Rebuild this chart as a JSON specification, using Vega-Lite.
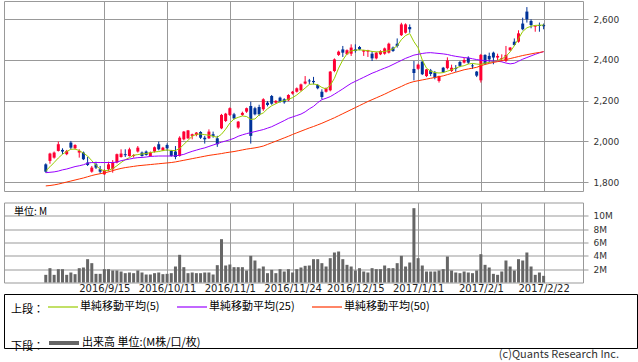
{
  "$schema": "https://vega.github.io/schema/vega-lite/v6.json",
  "padding": {"left": 3, "top": 0, "right": 0, "bottom": 0},
  "background": "white",
  "bounds": "flush",
  "spacing": 11.5,
  "resolve": {"scale": {"color": "independent", "x": "independent", "y": "independent"}, "legend": {"color": "independent"}},
  "config": {
    "view": {"stroke": "#999999", "strokeWidth": 1},
    "axis": {"gridColor": "#999999", "gridOpacity": 1, "gridWidth": 1, "labelFont": "DejaVu Sans", "labelColor": "#333333", "tickColor": "#999999", "domain": false},
    "legend": {"labelFont": "Noto Sans CJK JP", "labelFontSize": 11, "labelColor": "#000000", "titleFont": "Noto Sans CJK JP", "titleFontSize": 11, "titleFontWeight": "normal", "titleColor": "#000000", "titleBaseline": "line-top", "titleLineHeight": 16.5}
  },
  "datasets": {
    "k": [
      {"i":0,"o":1887,"h":1892,"l":1846,"c":1851,"v":1.15,"ma5":1855,"ma25":1846,"ma50":1781},
      {"i":1,"o":1904,"h":1944,"l":1890,"c":1940,"v":2.15,"ma5":1875,"ma25":1848,"ma50":1783},
      {"i":2,"o":1920,"h":1950,"l":1915,"c":1945,"v":1.15,"ma5":1896,"ma25":1850,"ma50":1786},
      {"i":3,"o":1953,"h":1999,"l":1950,"c":1986,"v":2.0,"ma5":1918,"ma25":1854,"ma50":1790},
      {"i":4,"o":1958,"h":1966,"l":1937,"c":1950,"v":2.0,"ma5":1937,"ma25":1860,"ma50":1795},
      {"i":5,"o":1937,"h":1958,"l":1932,"c":1953,"v":1.15,"ma5":1950,"ma25":1864,"ma50":1800},
      {"i":6,"o":1994,"h":2002,"l":1961,"c":1969,"v":1.5,"ma5":1961,"ma25":1870,"ma50":1805},
      {"i":7,"o":1966,"h":1986,"l":1960,"c":1982,"v":1.25,"ma5":1962,"ma25":1876,"ma50":1810},
      {"i":8,"o":1945,"h":1961,"l":1920,"c":1953,"v":2.15,"ma5":1955,"ma25":1880,"ma50":1815},
      {"i":9,"o":1945,"h":1950,"l":1908,"c":1912,"v":2.25,"ma5":1942,"ma25":1885,"ma50":1820},
      {"i":10,"o":1896,"h":1923,"l":1879,"c":1884,"v":3.5,"ma5":1928,"ma25":1893,"ma50":1826},
      {"i":11,"o":1851,"h":1879,"l":1846,"c":1871,"v":2.9,"ma5":1905,"ma25":1896,"ma50":1832},
      {"i":12,"o":1887,"h":1900,"l":1864,"c":1871,"v":1.3,"ma5":1882,"ma25":1896,"ma50":1837},
      {"i":13,"o":1863,"h":1879,"l":1841,"c":1851,"v":1.3,"ma5":1863,"ma25":1896,"ma50":1841},
      {"i":14,"o":1838,"h":1863,"l":1835,"c":1858,"v":2.0,"ma5":1855,"ma25":1896,"ma50":1845},
      {"i":15,"o":1863,"h":1900,"l":1853,"c":1887,"v":2.0,"ma5":1858,"ma25":1896,"ma50":1850},
      {"i":16,"o":1863,"h":1908,"l":1846,"c":1896,"v":1.8,"ma5":1866,"ma25":1896,"ma50":1856},
      {"i":17,"o":1896,"h":1940,"l":1892,"c":1937,"v":1.8,"ma5":1880,"ma25":1898,"ma50":1862},
      {"i":18,"o":1923,"h":1961,"l":1920,"c":1940,"v":1.65,"ma5":1896,"ma25":1905,"ma50":1867},
      {"i":19,"o":1937,"h":1961,"l":1923,"c":1932,"v":1.4,"ma5":1910,"ma25":1909,"ma50":1871},
      {"i":20,"o":1928,"h":1969,"l":1925,"c":1961,"v":1.5,"ma5":1920,"ma25":1913,"ma50":1874},
      {"i":21,"o":1928,"h":1937,"l":1920,"c":1933,"v":1.4,"ma5":1932,"ma25":1917,"ma50":1877},
      {"i":22,"o":1950,"h":1977,"l":1945,"c":1969,"v":1.8,"ma5":1935,"ma25":1920,"ma50":1880},
      {"i":23,"o":1945,"h":1950,"l":1925,"c":1928,"v":1.5,"ma5":1938,"ma25":1921,"ma50":1882},
      {"i":24,"o":1950,"h":1955,"l":1930,"c":1933,"v":1.2,"ma5":1940,"ma25":1923,"ma50":1884},
      {"i":25,"o":1928,"h":1950,"l":1925,"c":1945,"v":1.2,"ma5":1945,"ma25":1926,"ma50":1886},
      {"i":26,"o":1950,"h":1975,"l":1945,"c":1971,"v":1.4,"ma5":1948,"ma25":1927,"ma50":1888},
      {"i":27,"o":1986,"h":1999,"l":1956,"c":1961,"v":1.5,"ma5":1950,"ma25":1928,"ma50":1890},
      {"i":28,"o":1956,"h":1973,"l":1952,"c":1969,"v":1.25,"ma5":1955,"ma25":1928,"ma50":1892},
      {"i":29,"o":1982,"h":1990,"l":1953,"c":1966,"v":1.3,"ma5":1958,"ma25":1928,"ma50":1894},
      {"i":30,"o":1953,"h":1958,"l":1925,"c":1928,"v":1.4,"ma5":1955,"ma25":1928,"ma50":1896},
      {"i":31,"o":1950,"h":1977,"l":1912,"c":1923,"v":2.4,"ma5":1955,"ma25":1929,"ma50":1899},
      {"i":32,"o":1928,"h":2025,"l":1925,"c":2018,"v":4.15,"ma5":1965,"ma25":1932,"ma50":1903},
      {"i":33,"o":2010,"h":2051,"l":2005,"c":2048,"v":2.3,"ma5":1985,"ma25":1936,"ma50":1907},
      {"i":34,"o":2015,"h":2056,"l":2012,"c":2054,"v":1.4,"ma5":2005,"ma25":1944,"ma50":1911},
      {"i":35,"o":2027,"h":2038,"l":2010,"c":2035,"v":1.5,"ma5":2025,"ma25":1951,"ma50":1915},
      {"i":36,"o":2031,"h":2046,"l":2025,"c":2043,"v":1.4,"ma5":2035,"ma25":1957,"ma50":1919},
      {"i":37,"o":2046,"h":2050,"l":2012,"c":2018,"v":1.4,"ma5":2036,"ma25":1963,"ma50":1923},
      {"i":38,"o":2018,"h":2027,"l":1989,"c":2010,"v":1.5,"ma5":2033,"ma25":1968,"ma50":1927},
      {"i":39,"o":2015,"h":2059,"l":2012,"c":2048,"v":1.5,"ma5":2030,"ma25":1975,"ma50":1931},
      {"i":40,"o":2035,"h":2048,"l":2018,"c":2027,"v":1.2,"ma5":2025,"ma25":1982,"ma50":1934},
      {"i":41,"o":2015,"h":2027,"l":1973,"c":1986,"v":2.6,"ma5":2020,"ma25":1989,"ma50":1937},
      {"i":42,"o":2064,"h":2135,"l":2060,"c":2130,"v":6.5,"ma5":2035,"ma25":1996,"ma50":1940},
      {"i":43,"o":2100,"h":2140,"l":2095,"c":2136,"v":2.55,"ma5":2060,"ma25":2002,"ma50":1944},
      {"i":44,"o":2130,"h":2167,"l":2125,"c":2163,"v":2.7,"ma5":2090,"ma25":2008,"ma50":1947},
      {"i":45,"o":2133,"h":2140,"l":2108,"c":2113,"v":2.3,"ma5":2110,"ma25":2015,"ma50":1950},
      {"i":46,"o":2068,"h":2100,"l":2062,"c":2097,"v":2.3,"ma5":2118,"ma25":2025,"ma50":1954},
      {"i":47,"o":2130,"h":2146,"l":2125,"c":2140,"v":2.3,"ma5":2125,"ma25":2032,"ma50":1958},
      {"i":48,"o":2146,"h":2166,"l":2140,"c":2163,"v":1.8,"ma5":2122,"ma25":2038,"ma50":1962},
      {"i":49,"o":2174,"h":2195,"l":1989,"c":2027,"v":4.0,"ma5":2108,"ma25":2043,"ma50":1965},
      {"i":50,"o":2163,"h":2170,"l":2128,"c":2133,"v":3.3,"ma5":2110,"ma25":2048,"ma50":1968},
      {"i":51,"o":2169,"h":2180,"l":2125,"c":2133,"v":2.1,"ma5":2130,"ma25":2053,"ma50":1972},
      {"i":52,"o":2158,"h":2212,"l":2150,"c":2207,"v":2.4,"ma5":2140,"ma25":2058,"ma50":1977},
      {"i":53,"o":2190,"h":2198,"l":2172,"c":2179,"v":1.4,"ma5":2160,"ma25":2065,"ma50":1985},
      {"i":54,"o":2223,"h":2228,"l":2180,"c":2185,"v":1.9,"ma5":2175,"ma25":2072,"ma50":1993},
      {"i":55,"o":2190,"h":2203,"l":2185,"c":2199,"v":1.4,"ma5":2185,"ma25":2082,"ma50":2001},
      {"i":56,"o":2215,"h":2220,"l":2190,"c":2195,"v":2.0,"ma5":2195,"ma25":2092,"ma50":2009},
      {"i":57,"o":2207,"h":2212,"l":2185,"c":2192,"v":1.65,"ma5":2200,"ma25":2102,"ma50":2017},
      {"i":58,"o":2202,"h":2232,"l":2198,"c":2228,"v":2.0,"ma5":2207,"ma25":2113,"ma50":2025},
      {"i":59,"o":2235,"h":2248,"l":2230,"c":2244,"v":1.5,"ma5":2215,"ma25":2120,"ma50":2034},
      {"i":60,"o":2244,"h":2265,"l":2240,"c":2261,"v":2.0,"ma5":2228,"ma25":2127,"ma50":2042},
      {"i":61,"o":2251,"h":2284,"l":2246,"c":2280,"v":2.25,"ma5":2245,"ma25":2134,"ma50":2050},
      {"i":62,"o":2284,"h":2321,"l":2280,"c":2294,"v":2.5,"ma5":2262,"ma25":2145,"ma50":2058},
      {"i":63,"o":2299,"h":2307,"l":2281,"c":2295,"v":2.55,"ma5":2280,"ma25":2160,"ma50":2066},
      {"i":64,"o":2297,"h":2317,"l":2280,"c":2291,"v":3.5,"ma5":2282,"ma25":2172,"ma50":2073},
      {"i":65,"o":2277,"h":2282,"l":2256,"c":2261,"v":3.5,"ma5":2278,"ma25":2190,"ma50":2081},
      {"i":66,"o":2244,"h":2256,"l":2207,"c":2218,"v":2.9,"ma5":2265,"ma25":2205,"ma50":2089},
      {"i":67,"o":2244,"h":2265,"l":2240,"c":2261,"v":2.4,"ma5":2258,"ma25":2212,"ma50":2098},
      {"i":68,"o":2251,"h":2346,"l":2246,"c":2343,"v":3.65,"ma5":2275,"ma25":2220,"ma50":2107},
      {"i":69,"o":2346,"h":2408,"l":2340,"c":2403,"v":4.5,"ma5":2310,"ma25":2232,"ma50":2116},
      {"i":70,"o":2425,"h":2446,"l":2420,"c":2441,"v":4.65,"ma5":2360,"ma25":2245,"ma50":2126},
      {"i":71,"o":2452,"h":2469,"l":2415,"c":2436,"v":3.5,"ma5":2400,"ma25":2258,"ma50":2136},
      {"i":72,"o":2428,"h":2452,"l":2425,"c":2448,"v":2.65,"ma5":2430,"ma25":2272,"ma50":2146},
      {"i":73,"o":2431,"h":2477,"l":2420,"c":2461,"v":2.4,"ma5":2445,"ma25":2285,"ma50":2156},
      {"i":74,"o":2452,"h":2477,"l":2436,"c":2444,"v":1.8,"ma5":2448,"ma25":2295,"ma50":2166},
      {"i":75,"o":2464,"h":2469,"l":2448,"c":2452,"v":2.15,"ma5":2450,"ma25":2305,"ma50":2176},
      {"i":76,"o":2441,"h":2450,"l":2420,"c":2448,"v":1.65,"ma5":2448,"ma25":2315,"ma50":2186},
      {"i":77,"o":2441,"h":2450,"l":2415,"c":2448,"v":1.5,"ma5":2446,"ma25":2325,"ma50":2196},
      {"i":78,"o":2431,"h":2444,"l":2395,"c":2408,"v":2.15,"ma5":2442,"ma25":2335,"ma50":2205},
      {"i":79,"o":2408,"h":2440,"l":2403,"c":2436,"v":2.0,"ma5":2440,"ma25":2343,"ma50":2214},
      {"i":80,"o":2428,"h":2448,"l":2424,"c":2444,"v":2.0,"ma5":2440,"ma25":2352,"ma50":2223},
      {"i":81,"o":2431,"h":2461,"l":2426,"c":2457,"v":2.55,"ma5":2442,"ma25":2360,"ma50":2232},
      {"i":82,"o":2436,"h":2485,"l":2432,"c":2480,"v":2.15,"ma5":2446,"ma25":2368,"ma50":2242},
      {"i":83,"o":2461,"h":2466,"l":2440,"c":2444,"v":2.15,"ma5":2455,"ma25":2378,"ma50":2252},
      {"i":84,"o":2480,"h":2506,"l":2461,"c":2469,"v":2.9,"ma5":2470,"ma25":2388,"ma50":2261},
      {"i":85,"o":2522,"h":2583,"l":2518,"c":2575,"v":4.0,"ma5":2500,"ma25":2398,"ma50":2270},
      {"i":86,"o":2534,"h":2580,"l":2530,"c":2575,"v":2.4,"ma5":2520,"ma25":2408,"ma50":2280},
      {"i":87,"o":2562,"h":2575,"l":2534,"c":2551,"v":3.0,"ma5":2530,"ma25":2416,"ma50":2288},
      {"i":88,"o":2356,"h":2395,"l":2300,"c":2336,"v":11.15,"ma5":2490,"ma25":2424,"ma50":2294},
      {"i":89,"o":2357,"h":2382,"l":2352,"c":2377,"v":3.65,"ma5":2460,"ma25":2428,"ma50":2298},
      {"i":90,"o":2392,"h":2397,"l":2326,"c":2330,"v":2.55,"ma5":2400,"ma25":2432,"ma50":2302},
      {"i":91,"o":2321,"h":2356,"l":2316,"c":2354,"v":1.65,"ma5":2360,"ma25":2435,"ma50":2306},
      {"i":92,"o":2349,"h":2356,"l":2321,"c":2331,"v":1.65,"ma5":2345,"ma25":2436,"ma50":2310},
      {"i":93,"o":2338,"h":2346,"l":2305,"c":2313,"v":1.65,"ma5":2338,"ma25":2434,"ma50":2314},
      {"i":94,"o":2297,"h":2323,"l":2289,"c":2321,"v":1.8,"ma5":2336,"ma25":2432,"ma50":2318},
      {"i":95,"o":2362,"h":2366,"l":2336,"c":2340,"v":2.0,"ma5":2338,"ma25":2430,"ma50":2322},
      {"i":96,"o":2360,"h":2413,"l":2354,"c":2398,"v":3.9,"ma5":2345,"ma25":2427,"ma50":2328},
      {"i":97,"o":2346,"h":2377,"l":2341,"c":2362,"v":1.8,"ma5":2352,"ma25":2422,"ma50":2334},
      {"i":98,"o":2360,"h":2375,"l":2342,"c":2356,"v":1.5,"ma5":2360,"ma25":2418,"ma50":2340},
      {"i":99,"o":2390,"h":2395,"l":2365,"c":2371,"v":1.4,"ma5":2368,"ma25":2415,"ma50":2346},
      {"i":100,"o":2387,"h":2410,"l":2383,"c":2400,"v":1.65,"ma5":2372,"ma25":2412,"ma50":2352},
      {"i":101,"o":2411,"h":2418,"l":2380,"c":2387,"v":1.5,"ma5":2380,"ma25":2410,"ma50":2356},
      {"i":102,"o":2373,"h":2382,"l":2356,"c":2369,"v":1.4,"ma5":2383,"ma25":2406,"ma50":2360},
      {"i":103,"o":2343,"h":2346,"l":2316,"c":2323,"v":1.8,"ma5":2380,"ma25":2402,"ma50":2364},
      {"i":104,"o":2300,"h":2430,"l":2289,"c":2425,"v":4.25,"ma5":2378,"ma25":2399,"ma50":2372},
      {"i":105,"o":2425,"h":2428,"l":2378,"c":2382,"v":2.65,"ma5":2385,"ma25":2397,"ma50":2378},
      {"i":106,"o":2420,"h":2436,"l":2387,"c":2403,"v":2.25,"ma5":2388,"ma25":2396,"ma50":2383},
      {"i":107,"o":2436,"h":2441,"l":2379,"c":2412,"v":1.3,"ma5":2393,"ma25":2395,"ma50":2388},
      {"i":108,"o":2412,"h":2431,"l":2398,"c":2420,"v":1.15,"ma5":2398,"ma25":2394,"ma50":2392},
      {"i":109,"o":2405,"h":2428,"l":2392,"c":2410,"v":1.65,"ma5":2405,"ma25":2391,"ma50":2397},
      {"i":110,"o":2395,"h":2469,"l":2390,"c":2425,"v":3.3,"ma5":2418,"ma25":2385,"ma50":2402},
      {"i":111,"o":2448,"h":2464,"l":2444,"c":2461,"v":2.4,"ma5":2440,"ma25":2381,"ma50":2407},
      {"i":112,"o":2490,"h":2506,"l":2469,"c":2474,"v":1.8,"ma5":2470,"ma25":2384,"ma50":2412},
      {"i":113,"o":2490,"h":2546,"l":2485,"c":2531,"v":3.5,"ma5":2505,"ma25":2394,"ma50":2417},
      {"i":114,"o":2579,"h":2608,"l":2546,"c":2551,"v":3.3,"ma5":2540,"ma25":2404,"ma50":2422},
      {"i":115,"o":2638,"h":2660,"l":2584,"c":2600,"v":4.5,"ma5":2558,"ma25":2412,"ma50":2426},
      {"i":116,"o":2592,"h":2600,"l":2556,"c":2572,"v":2.4,"ma5":2566,"ma25":2420,"ma50":2430},
      {"i":117,"o":2564,"h":2569,"l":2539,"c":2568,"v":1.15,"ma5":2570,"ma25":2428,"ma50":2434},
      {"i":118,"o":2572,"h":2584,"l":2539,"c":2567,"v":1.5,"ma5":2571,"ma25":2435,"ma50":2437},
      {"i":119,"o":2572,"h":2579,"l":2551,"c":2566,"v":1.0,"ma5":2572,"ma25":2441,"ma50":2441}
    ]
  },
  "vconcat": [
    {
      "width": 579,
      "height": 190,
      "data": {"name": "k"},
      "layer": [
        {
          "mark": {"type": "rule", "strokeWidth": 1},
          "encoding": {
            "x": {"field": "i", "type": "quantitative", "scale": {"domain": [-8.79, 127.22], "nice": false, "zero": false},
              "axis": {"values": [14, 29, 44, 59, 74, 89, 104, 119], "labels": false, "ticks": false, "title": null, "grid": true}},
            "y": {"field": "l", "type": "quantitative", "scale": {"domain": [1756, 2690], "nice": false, "zero": false},
              "axis": {"orient": "right", "values": [1800, 2000, 2200, 2400, 2600], "format": ",.0f", "title": null, "grid": true, "tickSize": 5, "labelPadding": 5, "labelFontSize": 9}},
            "y2": {"field": "h"},
            "color": {"condition": {"test": "datum.c >= datum.o", "value": "#ff0033"}, "value": "#003399"}
          }
        },
        {
          "mark": {"type": "bar", "size": 3},
          "encoding": {
            "x": {"field": "i", "type": "quantitative"},
            "y": {"field": "o", "type": "quantitative"},
            "y2": {"field": "c"},
            "color": {"condition": {"test": "datum.c >= datum.o", "value": "#ff0033"}, "value": "#003399"}
          }
        },
        {
          "transform": [{"fold": ["ma5", "ma25", "ma50"], "as": ["s", "m"]}],
          "mark": {"type": "line", "strokeWidth": 1},
          "encoding": {
            "x": {"field": "i", "type": "quantitative"},
            "y": {"field": "m", "type": "quantitative"},
            "color": {"field": "s", "type": "nominal",
              "scale": {"domain": ["ma5", "ma25", "ma50"], "range": ["#99cc00", "#9900ff", "#ff3300"]},
              "legend": {"orient": "none", "legendX": 7, "legendY": 290, "direction": "horizontal", "title": "上段：", "titleOrient": "left", "titlePadding": 3,
                "symbolType": "stroke", "symbolSize": 900, "symbolStrokeWidth": 1.2, "labelOffset": 1, "columnPadding": 14,
                "labelExpr": "datum.label == 'ma5' ? '単純移動平均(5)' : datum.label == 'ma25' ? '単純移動平均(25)' : '単純移動平均(50)'"}}
          }
        }
      ]
    },
    {
      "width": 579,
      "height": 80,
      "data": {"name": "k"},
      "title": {"text": "単位: M", "orient": "top", "anchor": "start", "offset": -14, "dx": 10, "font": "Noto Sans CJK JP", "fontSize": 10, "fontWeight": "normal", "color": "#000000"},
      "mark": {"type": "bar", "size": 3},
      "encoding": {
        "x": {"field": "i", "type": "quantitative", "scale": {"domain": [-8.79, 127.22], "nice": false, "zero": false},
          "axis": {"values": [14, 29, 44, 59, 74, 89, 104, 119], "ticks": false, "title": null, "grid": true, "labelFontSize": 10, "labelPadding": 1, "labelOverlap": false, "labelFlush": false, "labelBound": false, "labelColor": "#222222",
            "labelExpr": "datum.value == 14 ? '2016/9/15' : datum.value == 29 ? '2016/10/11' : datum.value == 44 ? '2016/11/1' : datum.value == 59 ? '2016/11/24' : datum.value == 74 ? '2016/12/15' : datum.value == 89 ? '2017/1/11' : datum.value == 104 ? '2017/2/1' : '2017/2/22'"}},
        "y": {"field": "v", "type": "quantitative", "scale": {"domain": [0, 12], "nice": false},
          "axis": {"orient": "right", "values": [2, 4, 6, 8, 10], "labelExpr": "datum.value + 'M'", "title": null, "grid": true, "tickSize": 5, "labelPadding": 5, "labelFontSize": 9}},
        "color": {"datum": "出来高 単位:(M株/口/枚)", "type": "nominal", "scale": {"range": ["#666666"]},
          "legend": {"orient": "none", "legendX": 7, "legendY": 123.5, "title": "下段：", "titleOrient": "left", "titlePadding": 3,
            "symbolType": "stroke", "symbolSize": 900, "symbolStrokeWidth": 4, "symbolStrokeColor": "#666666", "labelOffset": 1}}
      }
    },
    {
      "width": 633,
      "height": 54,
      "view": {"stroke": "#000000", "strokeWidth": 1},
      "data": {"values": [{}]},
      "mark": {"type": "text", "text": ""},
      "encoding": {},
      "title": {"text": "(c)Quants Research Inc.", "orient": "bottom", "anchor": "end", "offset": 1, "dx": -18, "font": "Noto Sans CJK JP", "fontSize": 11, "fontWeight": "normal", "color": "#333333"}
    }
  ]
}
